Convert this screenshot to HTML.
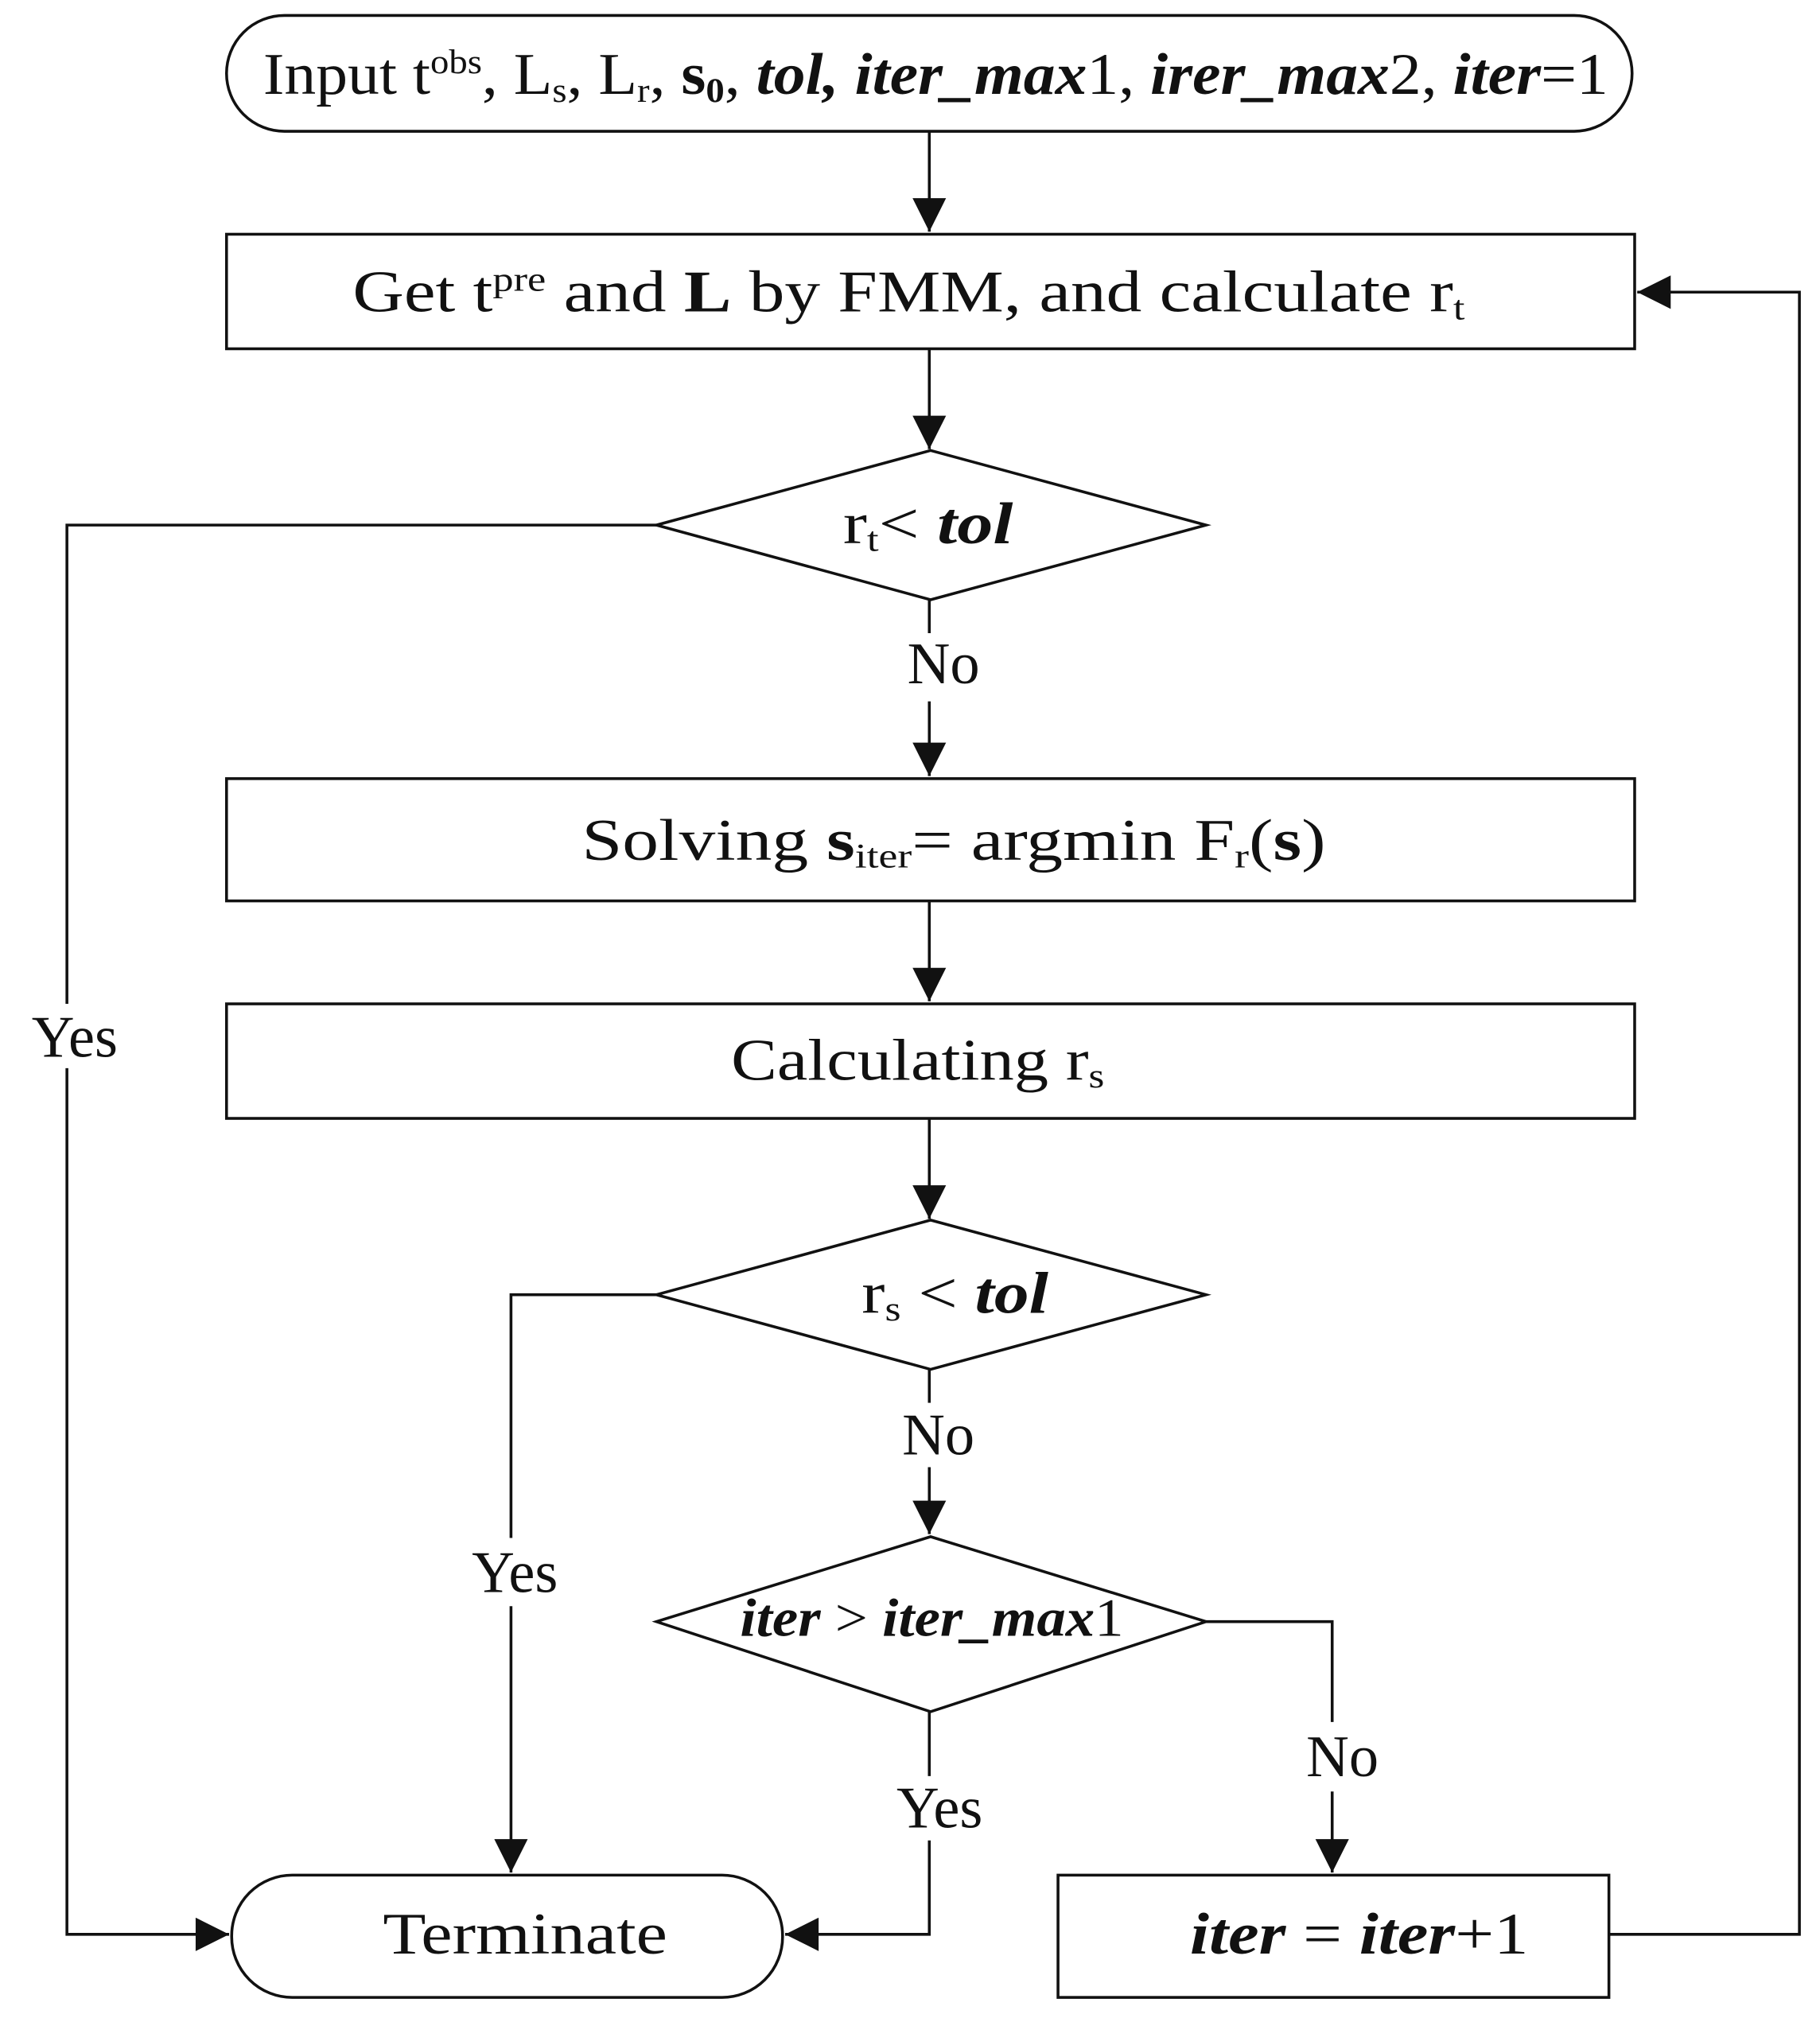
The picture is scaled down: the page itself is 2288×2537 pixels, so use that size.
<!DOCTYPE html>
<html><head><meta charset="utf-8"><style>
html,body{margin:0;padding:0;background:#fff}
svg{display:block}
text{font-family:"Liberation Serif",serif;fill:#111}
</style></head><body>
<svg width="2288" height="2537" viewBox="0 0 1414 1568" preserveAspectRatio="none" xmlns="http://www.w3.org/2000/svg">
<defs>
<marker id="b" viewBox="0 0 10 10" refX="10" refY="5" markerWidth="28" markerHeight="26" markerUnits="userSpaceOnUse" orient="auto"><path d="M0,0 L10,5 L0,10 z" fill="#111"/></marker></defs>
<g fill="none" stroke="#111" stroke-width="2.2">
<rect x="176" y="12" width="1092" height="90" rx="45"/>
<rect x="176" y="182" width="1094" height="89"/>
<polygon points="510,408 723,350 937,408 723,466"/>
<rect x="176" y="605" width="1094" height="95"/>
<rect x="176" y="780" width="1094" height="89"/>
<polygon points="510,1006 723,948 937,1006 723,1064"/>
<polygon points="510,1260 723,1194 937,1260 723,1330"/>
<rect x="822" y="1457" width="428" height="95"/>
<rect x="180" y="1457" width="428" height="95" rx="47"/>
<g marker-end="url(#b)">
<line x1="722" y1="102" x2="722" y2="180"/>
<line x1="722" y1="271" x2="722" y2="349"/>
<line x1="722" y1="545" x2="722" y2="603"/>
<line x1="722" y1="700" x2="722" y2="778"/>
<line x1="722" y1="869" x2="722" y2="947"/>
<line x1="722" y1="1140" x2="722" y2="1192"/>
<line x1="1035" y1="1392" x2="1035" y2="1455"/>
<polyline points="1250,1503 1398,1503 1398,227 1272,227"/>
<polyline points="722,1430 722,1503 610,1503"/>
<polyline points="52,830 52,1503 178,1503"/>
<polyline points="397,1248 397,1455"/>
</g>
<line x1="722" y1="466" x2="722" y2="492"/>
<line x1="722" y1="1064" x2="722" y2="1090"/>
<line x1="722" y1="1330" x2="722" y2="1380"/>
<polyline points="937,1260 1035,1260 1035,1338"/>
<polyline points="510,408 52,408 52,780"/>
<polyline points="510,1006 397,1006 397,1195"/>
</g>
<g font-size="46" text-anchor="middle">
<text x="727" y="73" textLength="1045" lengthAdjust="spacingAndGlyphs">Input t<tspan font-size="27" dy="-16">obs</tspan><tspan dy="16">, L</tspan><tspan font-size="27" dy="6">s</tspan><tspan dy="-6">, L</tspan><tspan font-size="27" dy="6">r</tspan><tspan dy="-6">, </tspan><tspan font-weight="bold">s</tspan><tspan font-size="27" font-weight="bold" dy="6">0</tspan><tspan dy="-6">, </tspan><tspan font-style="italic" font-weight="bold">tol, iter_max</tspan>1, <tspan font-style="italic" font-weight="bold">irer_max</tspan>2, <tspan font-style="italic" font-weight="bold">iter</tspan>=1</text>
<text x="706" y="242" textLength="864" lengthAdjust="spacingAndGlyphs">Get t<tspan font-size="27" dy="-16">pre</tspan><tspan dy="16"> and </tspan><tspan font-weight="bold">L</tspan> by FMM, and calculate r<tspan font-size="27" dy="6">t</tspan></text>
<text x="721" y="422" textLength="132" lengthAdjust="spacingAndGlyphs">r<tspan font-size="27" dy="6">t</tspan><tspan dy="-6">&lt; </tspan><tspan font-style="italic" font-weight="bold">tol</tspan></text>
<text x="733" y="531">No</text>
<text x="741" y="668" textLength="578" lengthAdjust="spacingAndGlyphs">Solving <tspan font-weight="bold">s</tspan><tspan font-size="27" dy="6">iter</tspan><tspan dy="-6">= argmin F</tspan><tspan font-size="27" dy="6">r</tspan><tspan dy="-6">(</tspan><tspan font-weight="bold">s</tspan>)</text>
<text x="713" y="839" textLength="290" lengthAdjust="spacingAndGlyphs">Calculating r<tspan font-size="27" dy="6">s</tspan></text>
<text x="742" y="1020" textLength="145" lengthAdjust="spacingAndGlyphs">r<tspan font-size="27" dy="6">s</tspan><tspan dy="-6"> &lt; </tspan><tspan font-style="italic" font-weight="bold">tol</tspan></text>
<text x="729" y="1130">No</text>
<text x="724" y="1271" font-size="42" textLength="298" lengthAdjust="spacingAndGlyphs"><tspan font-style="italic" font-weight="bold">iter</tspan> &gt; <tspan font-style="italic" font-weight="bold">iter_max</tspan>1</text>
<text x="1043" y="1380">No</text>
<text x="730" y="1420">Yes</text>
<text x="400" y="1237">Yes</text>
<text x="58" y="821">Yes</text>
<text x="408" y="1518" textLength="221" lengthAdjust="spacingAndGlyphs">Terminate</text>
<text x="1056" y="1518" textLength="263" lengthAdjust="spacingAndGlyphs"><tspan font-style="italic" font-weight="bold">iter</tspan> = <tspan font-style="italic" font-weight="bold">iter</tspan>+1</text>
</g>
</svg>
</body></html>
